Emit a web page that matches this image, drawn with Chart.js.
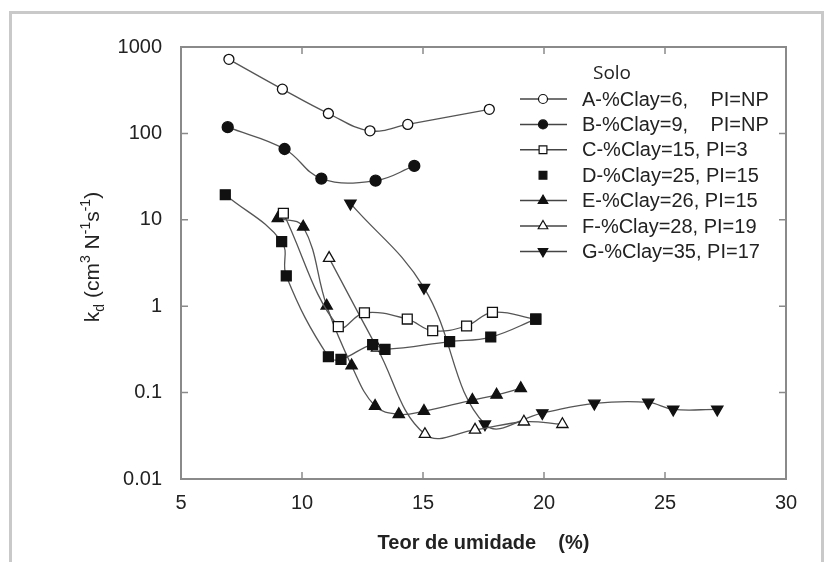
<!DOCTYPE html>
<html>
<head>
<meta charset="utf-8">
<script src="https://cdn.jsdelivr.net/npm/chart.js@4/dist/chart.umd.min.js"></script>
<style>
    body { margin: 0; background: #fff; }
    #wrap { position: relative; width: 829px; height: 562px; }
</style>
</head>
<body>
<div id="wrap"><canvas id="kdChart" width="829" height="562"></canvas></div>
<script>
// moisture content (%) and kd for each soil
const moistA = [6.98, 9.19, 11.09, 12.81, 14.37, 17.74];
const kdA = [720, 325, 170, 107, 127, 190];
const moistB = [6.93, 9.28, 10.8, 13.04, 14.64];
const kdB = [118, 66, 30, 28.4, 42];
const moistC = [9.23, 11.5, 12.58, 14.35, 15.4, 16.8, 17.87, 19.66];
const kdC = [11.9, 0.58, 0.84, 0.71, 0.52, 0.59, 0.85, 0.71];
const moistD = [6.83, 9.16, 9.35, 11.09, 11.61, 12.92, 13.43, 16.1, 17.8, 19.66];
const kdD = [19.5, 5.6, 2.24, 0.26, 0.243, 0.36, 0.317, 0.39, 0.44, 0.71];
const moistE = [9.0, 10.05, 11.02, 12.05, 13.02, 14.0, 15.04, 17.04, 18.04, 19.04];
const kdE = [10.4, 8.3, 1.01, 0.205, 0.07, 0.056, 0.061, 0.082, 0.094, 0.112];
const moistF = [11.12, 13.1, 15.08, 17.15, 19.17, 20.76];
const kdF = [3.6, 0.33, 0.033, 0.037, 0.046, 0.043];
const moistG = [12.0, 15.04, 17.56, 19.93, 22.08, 24.31, 25.34, 27.16];
const kdG = [15.5, 1.64, 0.043, 0.058, 0.075, 0.077, 0.064, 0.064];

const soilLabels = [
    "A-%Clay=6,    PI=NP",
    "B-%Clay=9,    PI=NP",
    "C-%Clay=15, PI=3",
    "D-%Clay=25, PI=15",
    "E-%Clay=26, PI=15",
    "F-%Clay=28, PI=19",
    "G-%Clay=35, PI=17",
];

const xTicks = [5, 10, 15, 20, 25, 30];
const yTicks = [0.01, 0.1, 1, 10, 100, 1000];
const yTickLabels = ["0.01", "0.1", "1", "10", "100", "1000"];

const FONT = "'Liberation Sans', Arial, sans-serif";
const LINE = "#555";
const INK = "#111";

function points(xs, ys) {
    return xs.map((x, i) => ({ x: x, y: ys[i] }));
}

function soil(label, xs, ys, style, open, rotation, radius) {
    return {
        label: label,
        data: points(xs, ys),
        borderColor: LINE,
        borderWidth: 1.3,
        tension: 0.4,
        pointStyle: style,
        pointRotation: rotation || 0,
        pointRadius: radius,
        pointBorderColor: INK,
        pointBorderWidth: 1.3,
        pointBackgroundColor: open ? "#fff" : INK,
        legendLine: true,
    };
}

const datasets = [
    soil(soilLabels[0], moistA, kdA, "circle", true, 0, 5),
    soil(soilLabels[1], moistB, kdB, "circle", false, 0, 5.5),
    soil(soilLabels[2], moistC, kdC, "rect", true, 0, 7),
    soil(soilLabels[3], moistD, kdD, "rect", false, 0, 7),
    soil(soilLabels[4], moistE, kdE, "triangle", false, 0, 6.5),
    soil(soilLabels[5], moistF, kdF, "triangle", true, 0, 6.5),
    soil(soilLabels[6], moistG, kdG, "triangle", false, 180, 6.5),
];
// D is shown without a line in the key, and its squares sit on top of C
datasets[3].legendLine = false;
datasets[3].order = -1;

// outer figure border, plot frame and inward ticks
const framePlugin = {
    id: "frame",
    afterDraw(chart) {
        const ctx = chart.ctx;
        const a = chart.chartArea;
        const xs = chart.scales.x;
        const ys = chart.scales.y;
        ctx.save();

        ctx.strokeStyle = "#c9c9c9";
        ctx.lineWidth = 3;
        ctx.beginPath();
        ctx.moveTo(10.5, 562);
        ctx.lineTo(10.5, 12.5);
        ctx.lineTo(822.5, 12.5);
        ctx.lineTo(822.5, 562);
        ctx.stroke();

        ctx.strokeStyle = "#8a8a8a";
        ctx.lineWidth = 2;
        ctx.strokeRect(a.left, a.top, a.right - a.left, a.bottom - a.top);

        const len = 7;
        ctx.lineWidth = 1.5;
        ctx.beginPath();
        xTicks.slice(1, -1).forEach(v => {
            const px = xs.getPixelForValue(v);
            ctx.moveTo(px, a.bottom);
            ctx.lineTo(px, a.bottom - len);
            ctx.moveTo(px, a.top);
            ctx.lineTo(px, a.top + len);
        });
        yTicks.slice(1, -1).forEach(v => {
            const py = ys.getPixelForValue(v);
            ctx.moveTo(a.left, py);
            ctx.lineTo(a.left + len, py);
            ctx.moveTo(a.right, py);
            ctx.lineTo(a.right - len, py);
        });
        ctx.stroke();
        ctx.restore();
    }
};

// y axis title with sub/superscripts
const yTitlePlugin = {
    id: "yTitle",
    afterDraw(chart) {
        const ctx = chart.ctx;
        const a = chart.chartArea;
        const big = "21px " + FONT;
        const small = "14px " + FONT;
        const parts = [
            { t: "k", f: big, dy: 0 },
            { t: "d", f: small, dy: 5 },
            { t: " (cm", f: big, dy: 0 },
            { t: "3", f: small, dy: -9 },
            { t: " N", f: big, dy: 0 },
            { t: "-1", f: small, dy: -9 },
            { t: "s", f: big, dy: 0 },
            { t: "-1", f: small, dy: -9 },
            { t: ")", f: big, dy: 0 },
        ];
        ctx.save();
        let total = 0;
        parts.forEach(p => {
            ctx.font = p.f;
            p.w = ctx.measureText(p.t).width;
            total += p.w;
        });
        ctx.translate(99, (a.top + a.bottom) / 2 - 6);
        ctx.rotate(-Math.PI / 2);
        ctx.fillStyle = "#222";
        ctx.textBaseline = "alphabetic";
        let x = -total / 2;
        parts.forEach(p => {
            ctx.font = p.f;
            ctx.fillText(p.t, x, p.dy);
            x += p.w;
        });
        ctx.restore();
    }
};

// key drawn inside the plot, line sample with marker for each soil
const keyPlugin = {
    id: "soilKey",
    afterDraw(chart) {
        const ctx = chart.ctx;
        ctx.save();
        ctx.fillStyle = "#222";
        ctx.font = "19px 'Open Sans', sans-serif";
        ctx.textAlign = "center";
        ctx.textBaseline = "middle";
        ctx.fillText("Solo", 612, 74);

        ctx.font = "20px " + FONT;
        ctx.textAlign = "left";
        chart.data.datasets.forEach((ds, i) => {
            const y = 99 + i * 25.4;
            if (ds.legendLine) {
                ctx.strokeStyle = "#444";
                ctx.lineWidth = 1.5;
                ctx.beginPath();
                ctx.moveTo(520, y);
                ctx.lineTo(567, y);
                ctx.stroke();
            }
            ctx.strokeStyle = INK;
            ctx.fillStyle = ds.pointBackgroundColor;
            ctx.lineWidth = 1.2;
            Chart.helpers.drawPoint(ctx, {
                pointStyle: ds.pointStyle,
                rotation: ds.pointRotation,
                radius: ds.pointStyle === "circle" ? 4.5 : 5.5,
                borderWidth: 1.2,
            }, 543, y);
            ctx.fillStyle = "#222";
            ctx.fillText(ds.label, 582, y + 1);
        });
        ctx.restore();
    }
};

const ctx = document.getElementById("kdChart").getContext("2d");
new Chart(ctx, {
    type: "line",
    data: { datasets: datasets },
    plugins: [framePlugin, yTitlePlugin, keyPlugin],
    options: {
        responsive: false,
        animation: false,
        layout: { padding: { top: 47, right: 43, bottom: 0, left: 0 } },
        plugins: {
            legend: { display: false },
            tooltip: { enabled: false },
        },
        scales: {
            x: {
                type: "linear",
                min: 5,
                max: 30,
                grid: { display: false },
                border: { display: false },
                afterFit: scale => { scale.height = 83; },
                afterBuildTicks: scale => {
                    scale.ticks = xTicks.map(v => ({ value: v }));
                },
                ticks: {
                    padding: 4,
                    color: "#222",
                    font: { family: FONT, size: 20 },
                    maxRotation: 0,
                },
                title: {
                    display: true,
                    text: "Teor de umidade    (%)",
                    color: "#222",
                    font: { family: FONT, size: 20, weight: "bold" },
                    padding: { top: 0, bottom: 7 },
                },
            },
            y: {
                type: "logarithmic",
                min: 0.01,
                max: 1000,
                grid: { display: false },
                border: { display: false },
                afterFit: scale => { scale.width = 181; },
                afterBuildTicks: scale => {
                    scale.ticks = yTicks.map(v => ({ value: v }));
                },
                ticks: {
                    padding: 11,
                    color: "#222",
                    font: { family: FONT, size: 20 },
                    callback: value => yTickLabels[yTicks.indexOf(value)],
                },
            },
        },
    },
});
</script>
</body>
</html>
